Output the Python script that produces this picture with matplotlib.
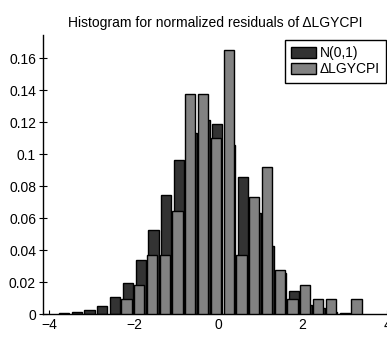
import numpy as np
import matplotlib
matplotlib.use("Agg")
import matplotlib.pyplot as plt

plt.rcParams['font.family'] = ['Liberation Sans', 'DejaVu Sans']
plt.rcParams['font.size'] = 10

# bin centres and relative frequencies of the simulated N(0,1) sample
normal_centers = [-3.656, -3.353, -3.050, -2.748, -2.445, -2.142, -1.839, -1.536,
                  -1.233, -0.931, -0.628, -0.325, -0.022, 0.281, 0.583, 0.886,
                  1.189, 1.492, 1.795, 2.097, 2.400, 2.703, 3.006]
normal_freq = [0.0005, 0.001, 0.0025, 0.005, 0.0104, 0.0196, 0.0337, 0.0525,
               0.0744, 0.0963, 0.1133, 0.121, 0.1185, 0.1056, 0.0854, 0.0633,
               0.0425, 0.0258, 0.0145, 0.0056, 0.0037, 0.0015, 0.0007]

# normalized residuals of dLGYCPI: bin centres and counts (109 obs)
resid_centers = [-2.175, -1.872, -1.569, -1.267, -0.964, -0.661, -0.358, -0.055,
                 0.247, 0.550, 0.853, 1.156, 1.459, 1.761, 2.064, 2.367,
                 2.670, 2.973, 3.275]
resid_counts = [1, 2, 4, 4, 7, 15, 15, 12, 18, 4, 8, 10, 3, 1, 2, 1, 1, 0, 1]
n_obs = 109

bin_step = 0.3028
bar_w = 0.8 * bin_step

W, H = 387, 337
fig = plt.figure(figsize=(W / 100, H / 100), dpi=100)
ax = fig.add_axes([43 / W, (H - 314) / H, (W - 43) / W, 279 / H])

resid_freq = np.array(resid_counts) / n_obs

ax.bar(normal_centers, normal_freq, width=bar_w, color='#333333',
       edgecolor='black', linewidth=1.0, label='N(0,1)', zorder=2)
ax.bar(resid_centers, resid_freq, width=bar_w, color='#828282',
       edgecolor='black', linewidth=1.0, label='\u0394LGYCPI', zorder=3)

ax.set_xlim(-4.154, 4.0)
ax.set_ylim(0, 0.1744)
ax.set_xticks([-4, -2, 0, 2, 4])
ax.set_xticklabels(['\u22124', '\u22122', '0', '2', '4'])
ax.set_yticks([0, 0.02, 0.04, 0.06, 0.08, 0.1, 0.12, 0.14, 0.16])
ax.set_yticklabels(['0', '0.02', '0.04', '0.06', '0.08', '0.1', '0.12', '0.14', '0.16'])

for side in ['top', 'right']:
    ax.spines[side].set_visible(False)
for side in ['left', 'bottom']:
    ax.spines[side].set_linewidth(1.0)
ax.tick_params(axis='x', direction='in', length=3, width=0.8, pad=3)
ax.tick_params(axis='y', direction='inout', length=6, width=0.8, pad=2)

ax.set_title('Histogram for normalized residuals of \u0394LGYCPI', fontsize=10, pad=6)

leg = ax.legend(loc='upper right', bbox_to_anchor=(0.998, 0.982), borderaxespad=0,
                fancybox=False, framealpha=1, edgecolor='black',
                handlelength=1.75, handleheight=0.8, handletextpad=0.3,
                labelspacing=0.15, borderpad=0.45, fontsize=10)
leg.get_frame().set_linewidth(1.0)

fig.savefig('out.png', dpi=100)
